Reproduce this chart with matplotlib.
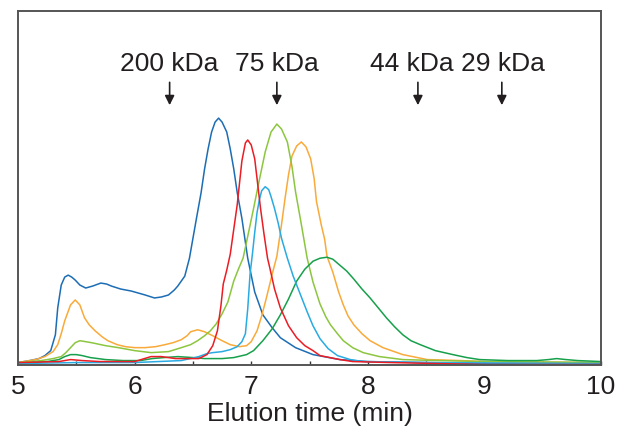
import matplotlib
matplotlib.use('Agg')
import matplotlib.pyplot as plt
from matplotlib.ticker import MultipleLocator

plt.rcParams['font.family'] = ['Liberation Sans', 'DejaVu Sans']

# Elution profiles (time in min, absorbance in arbitrary units)
t_blue = [5.00, 5.10, 5.18, 5.23, 5.28, 5.32, 5.34, 5.37, 5.40, 5.43, 5.46, 5.49, 5.53, 5.58, 5.64,
          5.71, 5.76, 5.80, 5.88, 5.97, 6.03, 6.09, 6.17, 6.23, 6.29, 6.34, 6.37, 6.40, 6.43, 6.47,
          6.50, 6.53, 6.57, 6.60, 6.63, 6.66, 6.69, 6.72, 6.75, 6.79, 6.82, 6.85, 6.88, 6.92, 6.97,
          7.03, 7.10, 7.18, 7.25, 7.38, 7.53, 7.76, 8.00, 8.50, 9.00, 10.0]
v_blue = [1, 3, 5, 8, 13, 29, 56, 79, 87, 89, 87, 84, 79, 76, 78,
          81, 80, 78, 75, 73, 71, 69, 66, 67, 69, 74, 78, 83, 88, 106,
          126, 146, 172, 196, 216, 233, 243, 247, 243, 233, 216, 196, 172, 146, 106,
          72, 49, 36, 26, 16, 9, 4, 2, 1, 0, 0]

t_red = [5.00, 5.35, 5.45, 5.55, 5.70, 6.00, 6.14, 6.23, 6.35, 6.45, 6.55, 6.62, 6.67, 6.71, 6.74,
         6.76, 6.79, 6.82, 6.85, 6.88, 6.90, 6.92, 6.95, 6.97, 7.00, 7.03, 7.05, 7.08, 7.11, 7.14,
         7.16, 7.20, 7.25, 7.32, 7.39, 7.46, 7.53, 7.59, 7.76, 7.87, 8.20, 9.00, 10.0]
v_red = [1, 2, 4, 3, 2, 2, 7, 7, 5, 5, 5, 9, 18, 33, 58,
         80, 94, 110, 135, 160, 182, 204, 222, 225, 220, 206, 186, 156, 130, 106,
         96, 75, 56, 38, 26, 18, 13, 8, 4, 2, 1, -1, -1]

t_cyan = [5.00, 5.50, 6.00, 6.40, 6.55, 6.62, 6.67, 6.75, 6.82, 6.88, 6.92, 6.95, 6.97, 6.99, 7.01,
          7.03, 7.05, 7.07, 7.09, 7.12, 7.15, 7.17, 7.20, 7.23, 7.26, 7.31, 7.36, 7.42, 7.48, 7.53,
          7.59, 7.66, 7.74, 7.85, 7.96, 8.50, 10.0]
v_cyan = [0, 1, 1, 3, 7, 10, 11, 12, 14, 17, 22, 30, 55, 90, 110,
          132, 152, 165, 174, 178, 175, 168, 156, 142, 126, 106, 88, 70, 52, 38,
          25, 15, 8, 4, 2, 1, 0]

t_lime = [5.00, 5.20, 5.30, 5.37, 5.41, 5.45, 5.49, 5.53, 5.58, 5.63, 5.75, 5.86, 6.00, 6.14, 6.29,
          6.40, 6.48, 6.54, 6.60, 6.65, 6.70, 6.75, 6.80, 6.85, 6.89, 6.93, 6.97, 7.02, 7.07, 7.12,
          7.17, 7.22, 7.26, 7.31, 7.35, 7.38, 7.43, 7.48, 7.53, 7.59, 7.64, 7.68, 7.74, 7.79, 7.87,
          7.96, 8.10, 8.30, 8.60, 9.00, 10.0]
v_lime = [1, 3, 5, 7, 11, 16, 21, 23, 22, 21, 18, 16, 13, 11, 12,
          16, 19, 23, 28, 33, 40, 50, 62, 83, 95, 106, 128, 156, 185, 213,
          233, 241, 236, 223, 198, 173, 140, 106, 82, 60, 47, 39, 30, 23, 16,
          11, 7, 4, 3, 2, 1]

t_orange = [5.00, 5.15, 5.23, 5.30, 5.34, 5.37, 5.40, 5.45, 5.49, 5.53, 5.57, 5.61, 5.66, 5.72, 5.77,
            5.85, 5.92, 6.00, 6.09, 6.18, 6.26, 6.33, 6.40, 6.45, 6.48, 6.54, 6.60, 6.67, 6.75, 6.82,
            6.90, 6.96, 7.00, 7.05, 7.09, 7.13, 7.18, 7.22, 7.26, 7.29, 7.32, 7.35, 7.39, 7.43, 7.47,
            7.51, 7.54, 7.56, 7.60, 7.63, 7.65, 7.70, 7.75, 7.79, 7.83, 7.88, 7.95, 8.02, 8.13, 8.30,
            8.51, 8.80, 9.00, 10.0]
v_orange = [1, 4, 7, 12, 19, 30, 43, 59, 64, 59, 46, 39, 33, 27, 23,
            19, 17, 16, 16, 17, 19, 21, 24, 28, 32, 34, 32, 28, 23, 19,
            17, 18, 22, 33, 48, 66, 90, 108, 140, 166, 190, 209, 219, 223, 218,
            206, 186, 163, 140, 125, 108, 92, 72, 59, 48, 39, 30, 23, 16, 9,
            4, 3, 2, 1]

t_green = [5.00, 5.25, 5.35, 5.40, 5.45, 5.50, 5.55, 5.62, 5.75, 5.90, 6.05, 6.15, 6.25, 6.37, 6.50,
           6.60, 6.75, 6.85, 6.96, 7.02, 7.10, 7.18, 7.25, 7.32, 7.39, 7.46, 7.53, 7.59, 7.65, 7.70,
           7.76, 7.82, 7.88, 7.95, 8.02, 8.09, 8.16, 8.23, 8.30, 8.37, 8.45, 8.58, 8.73, 8.85, 8.96,
           9.20, 9.45, 9.55, 9.62, 9.70, 9.80, 10.0]
v_green = [0, 2, 4, 7, 9, 9, 8, 6, 4, 3, 3, 5, 6, 7, 6,
           5, 5, 6, 9, 13, 23, 35, 49, 65, 83, 95, 103, 106, 107, 105,
           99, 93, 85, 75, 66, 56, 46, 37, 29, 23, 19, 13, 9, 6, 4,
           3, 3, 4, 5, 4, 3, 2]

marker_labels = ['200 kDa', '75 kDa', '44 kDa', '29 kDa']
marker_times = [6.30, 7.22, 8.43, 9.15]
label_times = [6.30, 7.22, 8.38, 9.16]

fig = plt.figure(figsize=(6.24, 4.32), dpi=100)
ax = fig.add_axes([0.029, 0.155, 0.934, 0.82])

lw = 1.1
ax.plot(t_blue, v_blue, color='#1c6db4', lw=lw)
ax.plot(t_orange, v_orange, color='#f9aa3a', lw=lw)
ax.plot(t_lime, v_lime, color='#8cc63f', lw=lw)
ax.plot(t_green, v_green, color='#17a04b', lw=lw)
ax.plot(t_cyan, v_cyan, color='#29abe2', lw=lw)
ax.plot(t_red, v_red, color='#ec1c24', lw=lw)

# size-standard markers
for lab, xl, x in zip(marker_labels, label_times, marker_times):
    ax.text(xl, 301, lab, ha='center', va='center', fontsize=19, color='#231f20')
    ax.annotate('', xy=(x, 260), xytext=(x, 283),
                arrowprops=dict(arrowstyle='-|>', color='#231f20', lw=1.2,
                                mutation_scale=14, shrinkA=0, shrinkB=0))

ax.set_xlim(5, 10)
ax.set_ylim(-1.5, 355)
ax.set_yticks([])
ax.xaxis.set_major_locator(MultipleLocator(1))
ax.xaxis.set_minor_locator(MultipleLocator(0.5))
ax.tick_params(axis='x', which='both', direction='in', length=3, width=1,
               color='#333333', labelsize=19, pad=7, labelcolor='#231f20')
for s in ax.spines.values():
    s.set_color('#555555')
    s.set_linewidth(1.4)

ax.set_xlabel('Elution time (min)', fontsize=19, color='#231f20', labelpad=2)

plt.savefig('out.png', dpi=100)
